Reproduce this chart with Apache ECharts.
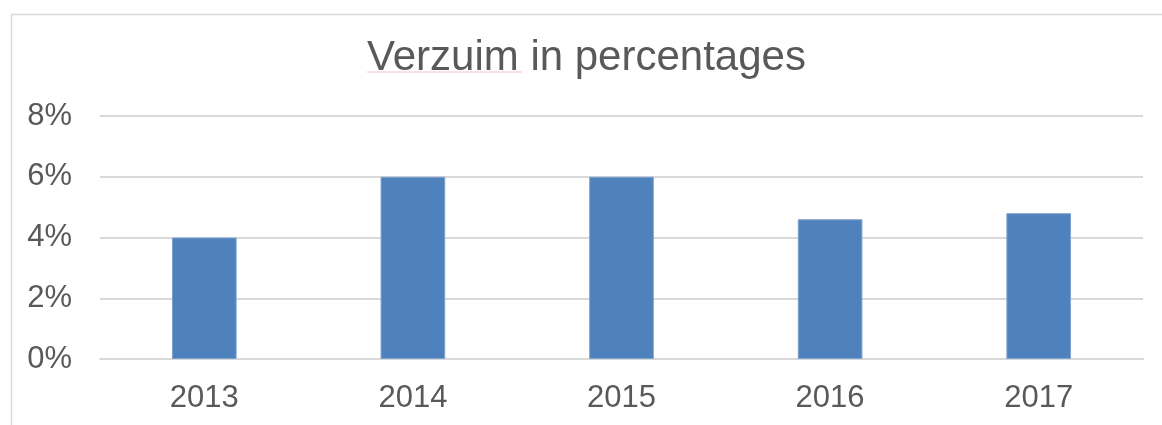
<!DOCTYPE html>
<html lang="nl">
<head>
    <meta charset="UTF-8">
    <title>Verzuim in percentages</title>
    <script src="https://cdn.jsdelivr.net/npm/echarts@6/dist/echarts.min.js"></script>
    <style>
        html, body { margin: 0; padding: 0; background: #fff; }
        #chart { width: 1162px; height: 425px; }
    </style>
</head>
<body>
    <div id="chart"></div>
    <script>
        var years = ['2013', '2014', '2015', '2016', '2017'];
        var verzuim = [4.0, 6.0, 6.0, 4.6, 4.8];
        var yTicks = [0, 2, 4, 6, 8];

        var textColor = '#595959';
        var fontFamily = 'Liberation Sans, Arial, sans-serif';

        var myChart = echarts.init(document.getElementById('chart'));

        var option = {
            animation: false,
            title: {
                text: 'Verzuim in percentages',
                left: 362,
                top: 32,
                textStyle: { color: textColor, fontSize: 42, fontWeight: 'normal', fontFamily: fontFamily }
            },
            graphic: [
                {
                    type: 'rect', left: 9, top: 12, silent: true,
                    shape: { width: 1200, height: 500 },
                    style: { fill: 'none', stroke: '#d9d9d9', lineWidth: 1.5 }
                },
                {
                    type: 'line', silent: true,
                    shape: { x1: 367, y1: 72, x2: 522, y2: 72 },
                    style: { stroke: '#f6c4c4', lineWidth: 1 }
                }
            ],
            grid: { left: 100, right: 19, top: 116, bottom: 66 },
            xAxis: {
                type: 'category',
                data: years,
                axisLine: { lineStyle: { color: '#d9d9d9', width: 2 } },
                axisTick: { show: false },
                axisLabel: { color: textColor, fontSize: 31, fontFamily: fontFamily, margin: 24 }
            },
            yAxis: {
                type: 'value',
                min: yTicks[0],
                max: yTicks[yTicks.length - 1],
                interval: 2,
                axisLine: { show: false },
                axisTick: { show: false },
                splitLine: { lineStyle: { color: '#d9d9d9', width: 2 } },
                axisLabel: {
                    color: textColor, fontSize: 31, fontFamily: fontFamily, margin: 28,
                    formatter: function (v) { return v + '%'; }
                }
            },
            series: [{
                type: 'bar',
                data: verzuim,
                barWidth: '31%',
                itemStyle: { color: '#4f81bd', borderColor: '#7fa3d0', borderWidth: 1 }
            }]
        };

        myChart.setOption(option);
    </script>
</body>
</html>
